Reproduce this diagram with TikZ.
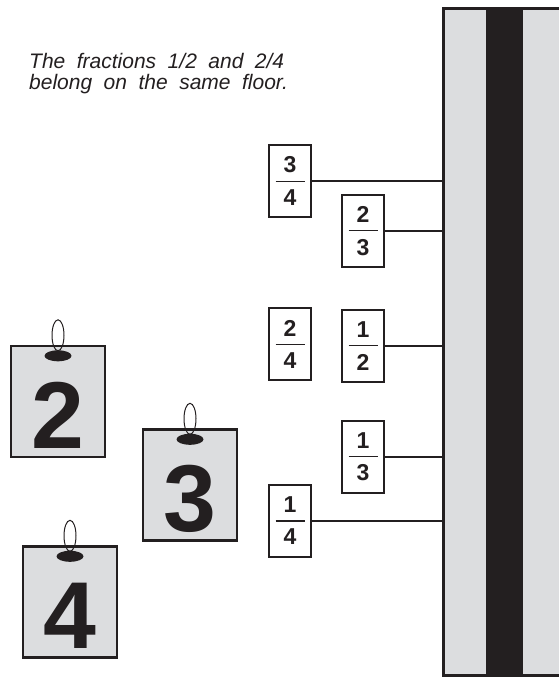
\documentclass[tikz,border=0pt]{standalone}
\usepackage{fontspec}
\setmainfont{Liberation Sans}
\definecolor{ink}{HTML}{231F20}
\definecolor{paper}{HTML}{DCDDDF}
\newcommand\fracbox[2]{\vbox{\hsize=29pt\hbox to 29pt{\hss#1\hss}\kern7.5pt\hrule height 1.2pt\kern7.5pt\hbox to 29pt{\hss#2\hss}}}
\newcommand\capfont{\fontsize{21}{21}\selectfont\itshape\spaceskip 11.5pt\relax}
\begin{document}
\begin{tikzpicture}[x=1pt,y=-1pt,
  fr/.style={draw=ink, line width=2.4pt, fill=white, minimum width=42pt, minimum height=72pt,
    inner sep=0pt, font=\fontsize{23}{23}\selectfont\bfseries, text=ink},
  tag/.style={draw=ink, line width=2.4pt, fill=paper, minimum width=94pt, minimum height=111pt,
    inner sep=0pt, font=\fontsize{95}{95}\selectfont\bfseries, text=ink, text height=93pt, text depth=0pt},
  bldgbox/.style={draw=ink, line width=3pt, fill=paper, minimum width=132pt, minimum height=666pt, inner sep=0pt},
  wire/.style={draw=ink, line width=2pt},
  hook/.style={draw=ink, line width=1pt},
  knot/.style={fill=ink}]
\useasboundingbox (0,0) rectangle (559,677);

\begin{scope}
\clip (0,0) rectangle (559,677);
\node[bldgbox] (bldg) at (509,342) {};
\fill[ink] (486,10.5) rectangle (523,673.5);
\end{scope}

\node[anchor=north west, inner sep=0pt, align=left, text=ink, font=\capfont] (cap) at (29,53)
  {The fractions 1/2 and 2/4\\belong on the same floor.};

\node[fr] (f34) at (290,181) {\fracbox{3}{4}};
\node[fr] (f23) at (363,231) {\fracbox{2}{3}};
\node[fr] (f24) at (290,344) {\fracbox{2}{4}};
\node[fr] (f12) at (363,346) {\fracbox{1}{2}};
\node[fr] (f13) at (363,457) {\fracbox{1}{3}};
\node[fr] (f14) at (290,521) {\fracbox{1}{4}};

\foreach \f in {f34,f23,f12,f13,f14}
  \draw[wire] (\f.east) -- (\f.east -| bldg.west);

\node[tag] (t2) at (58,401.5) {2};
\node[tag] (t3) at (190,485) {3};
\node[tag] (t4) at (70,602) {4};

\foreach \t in {t2,t3,t4}{
  \draw[hook] ([yshift=9.5pt]\t.north) ellipse [x radius=6pt, y radius=15.5pt];
  \fill[knot] ([yshift=-11pt]\t.north) ellipse [x radius=13.5pt, y radius=5.5pt];
}
\end{tikzpicture}
\end{document}
